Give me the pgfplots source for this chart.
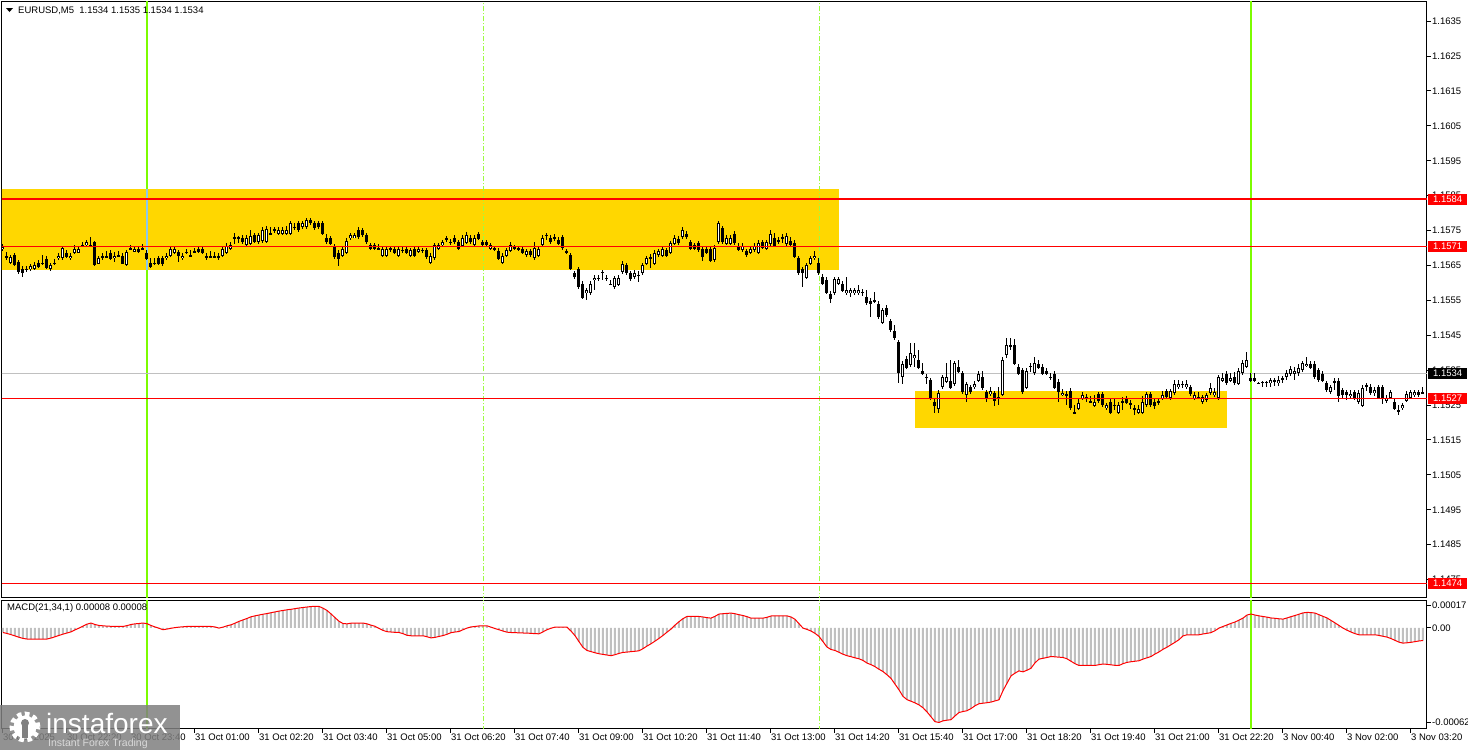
\documentclass[border=0pt]{standalone}
\usepackage{fontspec}
\setmainfont{Liberation Sans}
\usepackage{pgfplots}
\usepackage{pgfplotstable}
\pgfplotsset{compat=1.18}
\definecolor{gold}{RGB}{255,215,0}
\definecolor{lawn}{RGB}{124,252,0}
\definecolor{silver}{RGB}{192,192,192}
\definecolor{xorblue}{RGB}{140,200,235}
\newcommand\lbl{\fontsize{9.5}{11}\selectfont}

% EURUSD M5 candles: index, open, high, low, close, MACD(21,34,1)
\pgfplotstableread{
i o h l c m
0 1.15697 1.15711 1.15691 1.15705 -2.9e-5
1 1.15679 1.15688 1.15665 1.15671 -3.5e-5
2 1.15659 1.15679 1.15654 1.15674 -4.2e-5
3 1.15679 1.15685 1.15648 1.15651 -5.0e-5
4 1.15659 1.15665 1.15625 1.15631 -5.8e-5
5 1.15642 1.15648 1.15616 1.15628 -6.5e-5
6 1.15639 1.15648 1.15631 1.15639 -6.9e-5
7 1.15639 1.15654 1.15634 1.15648 -6.9e-5
8 1.15639 1.15659 1.15636 1.15651 -6.9e-5
9 1.15659 1.15665 1.15642 1.15648 -6.9e-5
10 1.15656 1.15679 1.15651 1.15656 -6.9e-5
11 1.15671 1.15676 1.15639 1.15645 -6.9e-5
12 1.15639 1.15656 1.15634 1.15651 -6.3e-5
13 1.15656 1.15668 1.15651 1.15656 -5.5e-5
14 1.15671 1.15685 1.15665 1.15679 -4.7e-5
15 1.15671 1.15705 1.15665 1.15699 -3.9e-5
16 1.15688 1.15694 1.15671 1.15676 -3.2e-5
17 1.15671 1.15685 1.15665 1.15679 -2.5e-5
18 1.15688 1.15708 1.15682 1.15699 -1.3e-5
19 1.15688 1.15705 1.15685 1.15699 -0.2e-5
20 1.15708 1.15717 1.15702 1.15708 1.0e-5
21 1.15708 1.15722 1.15702 1.15717 2.2e-5
22 1.15708 1.15731 1.15702 1.15708 2.9e-5
23 1.15717 1.15719 1.15648 1.15651 2.0e-5
24 1.15656 1.15676 1.15654 1.15671 1.4e-5
25 1.15679 1.15685 1.15665 1.15671 1.2e-5
26 1.15676 1.15691 1.15671 1.15676 1.0e-5
27 1.15688 1.15694 1.15665 1.15671 0.9e-5
28 1.15671 1.15688 1.15659 1.15679 0.8e-5
29 1.15679 1.15691 1.15674 1.15679 0.8e-5
30 1.15679 1.15685 1.15654 1.15656 0.8e-5
31 1.15651 1.15694 1.15648 1.15688 1.3e-5
32 1.15699 1.15708 1.15694 1.15699 2.0e-5
33 1.15691 1.15705 1.15688 1.15699 2.4e-5
34 1.15699 1.15705 1.15685 1.15691 2.6e-5
35 1.15699 1.15711 1.15694 1.15699 2.9e-5
36 1.15688 1.15694 1.15665 1.15671 2.5e-5
37 1.15659 1.15671 1.15642 1.15648 1.4e-5
38 1.15656 1.15671 1.15651 1.15656 0.5e-5
39 1.15671 1.15676 1.15651 1.15656 -0.3e-5
40 1.15671 1.15676 1.15648 1.15656 -1.2e-5
41 1.15671 1.15685 1.15665 1.15679 -0.8e-5
42 1.15679 1.15705 1.15674 1.15699 -0.3e-5
43 1.15688 1.15705 1.15682 1.15699 0.1e-5
44 1.15688 1.15694 1.15659 1.15679 0.4e-5
45 1.15671 1.15685 1.15665 1.15679 0.6e-5
46 1.15688 1.15697 1.15682 1.15688 0.8e-5
47 1.15679 1.15694 1.15676 1.15679 0.8e-5
48 1.15691 1.15699 1.15685 1.15691 0.8e-5
49 1.15699 1.15705 1.15685 1.15691 0.8e-5
50 1.15699 1.15705 1.15682 1.15688 0.8e-5
51 1.15679 1.15685 1.15665 1.15671 0.8e-5
52 1.15676 1.15691 1.15671 1.15676 0.8e-5
53 1.15676 1.15688 1.15674 1.15676 0.5e-5
54 1.15679 1.15685 1.15665 1.15671 -0.2e-5
55 1.15679 1.15705 1.15674 1.15699 0.4e-5
56 1.15688 1.15714 1.15682 1.15708 1.2e-5
57 1.15699 1.15717 1.15694 1.15708 1.8e-5
58 1.15731 1.15742 1.15711 1.15731 2.8e-5
59 1.15731 1.15734 1.15714 1.15731 3.9e-5
60 1.15731 1.15737 1.15711 1.15717 4.8e-5
61 1.15711 1.15737 1.15705 1.15731 5.7e-5
62 1.15714 1.15751 1.15708 1.15737 6.7e-5
63 1.15737 1.15742 1.15714 1.15719 7.3e-5
64 1.15717 1.15742 1.15711 1.15737 7.8e-5
65 1.15719 1.15760 1.15714 1.15751 8.3e-5
66 1.15719 1.15762 1.15714 1.15754 8.7e-5
67 1.15742 1.15760 1.15737 1.15742 9.2e-5
68 1.15754 1.15760 1.15742 1.15754 9.7e-5
69 1.15742 1.15760 1.15737 1.15754 10.2e-5
70 1.15742 1.15760 1.15737 1.15754 10.6e-5
71 1.15742 1.15762 1.15737 1.15754 11.0e-5
72 1.15742 1.15777 1.15737 1.15771 11.3e-5
73 1.15760 1.15771 1.15751 1.15760 11.7e-5
74 1.15771 1.15777 1.15745 1.15751 12.1e-5
75 1.15760 1.15777 1.15754 1.15771 12.4e-5
76 1.15760 1.15785 1.15754 1.15780 12.7e-5
77 1.15780 1.15785 1.15765 1.15771 13.0e-5
78 1.15771 1.15777 1.15751 1.15757 13.1e-5
79 1.15771 1.15777 1.15754 1.15760 13.1e-5
80 1.15771 1.15777 1.15737 1.15742 12.0e-5
81 1.15731 1.15740 1.15711 1.15717 10.6e-5
82 1.15731 1.15734 1.15708 1.15714 8.5e-5
83 1.15702 1.15711 1.15668 1.15674 6.2e-5
84 1.15688 1.15694 1.15648 1.15671 4.0e-5
85 1.15679 1.15705 1.15674 1.15699 2.6e-5
86 1.15688 1.15728 1.15682 1.15722 2.4e-5
87 1.15728 1.15742 1.15722 1.15737 2.8e-5
88 1.15731 1.15742 1.15728 1.15737 2.9e-5
89 1.15751 1.15760 1.15725 1.15731 2.9e-5
90 1.15751 1.15757 1.15731 1.15737 2.9e-5
91 1.15737 1.15742 1.15711 1.15717 2.4e-5
92 1.15708 1.15714 1.15694 1.15699 1.6e-5
93 1.15708 1.15714 1.15694 1.15699 0.9e-5
94 1.15699 1.15711 1.15697 1.15699 -0.4e-5
95 1.15679 1.15705 1.15674 1.15699 -1.6e-5
96 1.15679 1.15705 1.15674 1.15699 -2.4e-5
97 1.15699 1.15705 1.15688 1.15699 -2.6e-5
98 1.15699 1.15705 1.15682 1.15688 -2.8e-5
99 1.15679 1.15705 1.15674 1.15699 -2.9e-5
100 1.15694 1.15705 1.15685 1.15694 -3.6e-5
101 1.15699 1.15705 1.15682 1.15688 -4.6e-5
102 1.15679 1.15699 1.15674 1.15694 -4.9e-5
103 1.15699 1.15705 1.15674 1.15679 -4.9e-5
104 1.15691 1.15705 1.15685 1.15699 -4.9e-5
105 1.15694 1.15699 1.15685 1.15694 -4.9e-5
106 1.15694 1.15699 1.15668 1.15674 -5.5e-5
107 1.15659 1.15685 1.15654 1.15679 -6.2e-5
108 1.15671 1.15714 1.15665 1.15708 -5.9e-5
109 1.15699 1.15714 1.15694 1.15708 -5.3e-5
110 1.15708 1.15722 1.15702 1.15717 -4.8e-5
111 1.15728 1.15734 1.15717 1.15728 -4.0e-5
112 1.15717 1.15725 1.15708 1.15717 -3.0e-5
113 1.15731 1.15737 1.15711 1.15717 -2.6e-5
114 1.15717 1.15722 1.15694 1.15699 -2.3e-5
115 1.15708 1.15737 1.15702 1.15731 -1.2e-5
116 1.15717 1.15745 1.15711 1.15740 -0.2e-5
117 1.15731 1.15737 1.15711 1.15717 0.5e-5
118 1.15711 1.15737 1.15705 1.15731 0.8e-5
119 1.15740 1.15745 1.15722 1.15728 1.1e-5
120 1.15717 1.15722 1.15702 1.15708 1.2e-5
121 1.15717 1.15722 1.15702 1.15708 1.2e-5
122 1.15699 1.15714 1.15694 1.15708 0.4e-5
123 1.15699 1.15702 1.15691 1.15699 -0.5e-5
124 1.15694 1.15699 1.15665 1.15671 -1.2e-5
125 1.15659 1.15685 1.15654 1.15679 -2.0e-5
126 1.15679 1.15699 1.15674 1.15694 -2.7e-5
127 1.15694 1.15717 1.15688 1.15711 -2.9e-5
128 1.15702 1.15708 1.15694 1.15702 -3.0e-5
129 1.15699 1.15705 1.15691 1.15699 -3.1e-5
130 1.15699 1.15705 1.15682 1.15688 -3.2e-5
131 1.15679 1.15697 1.15674 1.15691 -3.3e-5
132 1.15691 1.15697 1.15674 1.15679 -3.4e-5
133 1.15671 1.15717 1.15665 1.15699 -3.6e-5
134 1.15679 1.15705 1.15674 1.15699 -3.7e-5
135 1.15711 1.15737 1.15705 1.15731 -2.5e-5
136 1.15737 1.15742 1.15722 1.15737 -1.2e-5
137 1.15731 1.15737 1.15711 1.15717 -0.3e-5
138 1.15731 1.15740 1.15719 1.15731 0.4e-5
139 1.15725 1.15731 1.15708 1.15714 0.4e-5
140 1.15731 1.15737 1.15694 1.15699 0.4e-5
141 1.15691 1.15697 1.15682 1.15691 0.4e-5
142 1.15679 1.15685 1.15636 1.15639 -2.0e-5
143 1.15628 1.15634 1.15611 1.15616 -4.8e-5
144 1.15639 1.15645 1.15582 1.15588 -8.5e-5
145 1.15599 1.15605 1.15553 1.15559 -12.0e-5
146 1.15571 1.15585 1.15550 1.15579 -13.9e-5
147 1.15571 1.15605 1.15565 1.15599 -14.6e-5
148 1.15608 1.15622 1.15579 1.15616 -15.3e-5
149 1.15611 1.15622 1.15605 1.15616 -15.9e-5
150 1.15631 1.15636 1.15608 1.15631 -16.3e-5
151 1.15616 1.15622 1.15605 1.15611 -16.7e-5
152 1.15596 1.15608 1.15594 1.15596 -17.1e-5
153 1.15588 1.15619 1.15582 1.15614 -16.5e-5
154 1.15596 1.15622 1.15591 1.15616 -15.7e-5
155 1.15631 1.15662 1.15625 1.15656 -15.1e-5
156 1.15651 1.15656 1.15622 1.15628 -14.9e-5
157 1.15628 1.15634 1.15605 1.15611 -14.6e-5
158 1.15616 1.15636 1.15611 1.15628 -14.4e-5
159 1.15622 1.15634 1.15602 1.15622 -14.1e-5
160 1.15628 1.15656 1.15622 1.15651 -12.8e-5
161 1.15656 1.15676 1.15651 1.15671 -11.2e-5
162 1.15671 1.15682 1.15642 1.15676 -9.8e-5
163 1.15656 1.15694 1.15651 1.15688 -8.2e-5
164 1.15679 1.15697 1.15674 1.15691 -6.5e-5
165 1.15679 1.15705 1.15674 1.15699 -4.7e-5
166 1.15694 1.15699 1.15674 1.15679 -2.7e-5
167 1.15688 1.15719 1.15682 1.15714 -0.8e-5
168 1.15714 1.15737 1.15708 1.15731 1.6e-5
169 1.15728 1.15734 1.15708 1.15714 3.7e-5
170 1.15731 1.15760 1.15725 1.15751 5.6e-5
171 1.15742 1.15748 1.15725 1.15731 6.9e-5
172 1.15717 1.15722 1.15694 1.15699 6.9e-5
173 1.15708 1.15714 1.15694 1.15699 6.9e-5
174 1.15714 1.15719 1.15688 1.15694 6.9e-5
175 1.15699 1.15705 1.15662 1.15676 6.6e-5
176 1.15699 1.15705 1.15682 1.15688 6.2e-5
177 1.15699 1.15705 1.15659 1.15665 5.9e-5
178 1.15665 1.15708 1.15659 1.15702 7.0e-5
179 1.15717 1.15777 1.15711 1.15771 8.4e-5
180 1.15757 1.15762 1.15711 1.15717 8.6e-5
181 1.15714 1.15737 1.15708 1.15731 8.8e-5
182 1.15714 1.15737 1.15708 1.15731 9.0e-5
183 1.15742 1.15748 1.15708 1.15714 8.6e-5
184 1.15708 1.15714 1.15691 1.15697 8.0e-5
185 1.15694 1.15714 1.15688 1.15708 7.5e-5
186 1.15691 1.15697 1.15674 1.15679 6.8e-5
187 1.15688 1.15705 1.15682 1.15699 5.9e-5
188 1.15694 1.15714 1.15688 1.15708 5.9e-5
189 1.15688 1.15722 1.15682 1.15717 5.9e-5
190 1.15717 1.15722 1.15697 1.15702 5.9e-5
191 1.15699 1.15722 1.15694 1.15717 6.4e-5
192 1.15711 1.15751 1.15705 1.15742 7.2e-5
193 1.15731 1.15742 1.15702 1.15708 7.3e-5
194 1.15722 1.15731 1.15711 1.15722 7.3e-5
195 1.15731 1.15740 1.15714 1.15731 7.3e-5
196 1.15714 1.15742 1.15705 1.15737 7.3e-5
197 1.15722 1.15731 1.15705 1.15711 6.6e-5
198 1.15717 1.15722 1.15671 1.15676 5.2e-5
199 1.15671 1.15676 1.15622 1.15628 2.5e-5
200 1.15639 1.15645 1.15588 1.15628 -0.2e-5
201 1.15616 1.15656 1.15611 1.15651 -1.0e-5
202 1.15656 1.15676 1.15651 1.15671 -2.0e-5
203 1.15671 1.15691 1.15665 1.15679 -3.4e-5
204 1.15659 1.15671 1.15622 1.15628 -5.3e-5
205 1.15619 1.15625 1.15594 1.15599 -8.5e-5
206 1.15611 1.15616 1.15568 1.15574 -11.8e-5
207 1.15571 1.15576 1.15542 1.15556 -13.3e-5
208 1.15571 1.15616 1.15565 1.15611 -13.9e-5
209 1.15599 1.15616 1.15594 1.15611 -15.0e-5
210 1.15599 1.15605 1.15574 1.15579 -16.2e-5
211 1.15571 1.15616 1.15565 1.15579 -17.1e-5
212 1.15571 1.15585 1.15559 1.15579 -17.7e-5
213 1.15571 1.15585 1.15565 1.15579 -18.4e-5
214 1.15571 1.15594 1.15565 1.15579 -19.0e-5
215 1.15574 1.15582 1.15562 1.15574 -20.0e-5
216 1.15559 1.15579 1.15536 1.15542 -21.6e-5
217 1.15550 1.15556 1.15502 1.15539 -22.6e-5
218 1.15550 1.15574 1.15542 1.15550 -23.8e-5
219 1.15542 1.15547 1.15496 1.15502 -25.4e-5
220 1.15487 1.15528 1.15482 1.15522 -26.8e-5
221 1.15530 1.15536 1.15502 1.15508 -28.8e-5
222 1.15490 1.15496 1.15459 1.15465 -31.0e-5
223 1.15462 1.15479 1.15436 1.15442 -34.5e-5
224 1.15430 1.15436 1.15313 1.15341 -38.0e-5
225 1.15330 1.15376 1.15310 1.15370 -42.0e-5
226 1.15384 1.15390 1.15353 1.15358 -44.0e-5
227 1.15364 1.15427 1.15358 1.15399 -45.0e-5
228 1.15384 1.15427 1.15358 1.15393 -46.0e-5
229 1.15381 1.15407 1.15353 1.15358 -47.2e-5
230 1.15350 1.15370 1.15336 1.15341 -49.0e-5
231 1.15330 1.15338 1.15310 1.15330 -51.5e-5
232 1.15321 1.15327 1.15264 1.15270 -54.5e-5
233 1.15261 1.15267 1.15227 1.15247 -57.5e-5
234 1.15241 1.15293 1.15227 1.15287 -58.0e-5
235 1.15301 1.15336 1.15295 1.15330 -57.0e-5
236 1.15318 1.15370 1.15313 1.15330 -56.6e-5
237 1.15321 1.15379 1.15295 1.15301 -56.3e-5
238 1.15310 1.15376 1.15304 1.15370 -54.0e-5
239 1.15361 1.15379 1.15341 1.15347 -51.9e-5
240 1.15341 1.15347 1.15281 1.15287 -51.3e-5
241 1.15278 1.15316 1.15258 1.15310 -50.8e-5
242 1.15301 1.15307 1.15281 1.15287 -49.5e-5
243 1.15301 1.15318 1.15295 1.15310 -47.8e-5
244 1.15321 1.15347 1.15316 1.15341 -46.5e-5
245 1.15330 1.15347 1.15293 1.15298 -46.2e-5
246 1.15287 1.15293 1.15258 1.15272 -45.9e-5
247 1.15281 1.15301 1.15275 1.15290 -45.5e-5
248 1.15284 1.15290 1.15247 1.15261 -44.8e-5
249 1.15272 1.15301 1.15250 1.15272 -44.1e-5
250 1.15281 1.15387 1.15275 1.15381 -38.5e-5
251 1.15393 1.15442 1.15384 1.15422 -34.0e-5
252 1.15422 1.15442 1.15407 1.15422 -29.5e-5
253 1.15422 1.15439 1.15364 1.15370 -27.8e-5
254 1.15361 1.15367 1.15336 1.15341 -26.4e-5
255 1.15350 1.15356 1.15281 1.15287 -27.0e-5
256 1.15301 1.15356 1.15295 1.15350 -26.0e-5
257 1.15361 1.15370 1.15344 1.15361 -24.8e-5
258 1.15341 1.15387 1.15336 1.15370 -21.5e-5
259 1.15370 1.15379 1.15353 1.15358 -19.2e-5
260 1.15361 1.15367 1.15336 1.15341 -18.7e-5
261 1.15350 1.15356 1.15336 1.15341 -18.2e-5
262 1.15330 1.15341 1.15321 1.15330 -17.6e-5
263 1.15341 1.15347 1.15295 1.15301 -17.8e-5
264 1.15318 1.15324 1.15258 1.15287 -18.0e-5
265 1.15281 1.15295 1.15275 1.15287 -18.2e-5
266 1.15281 1.15290 1.15250 1.15281 -19.0e-5
267 1.15290 1.15298 1.15235 1.15241 -20.5e-5
268 1.15229 1.15250 1.15227 1.15229 -22.0e-5
269 1.15241 1.15270 1.15235 1.15258 -23.1e-5
270 1.15270 1.15287 1.15264 1.15281 -23.1e-5
271 1.15272 1.15281 1.15258 1.15272 -23.1e-5
272 1.15261 1.15275 1.15258 1.15261 -23.1e-5
273 1.15250 1.15278 1.15244 1.15261 -23.1e-5
274 1.15281 1.15287 1.15255 1.15261 -22.6e-5
275 1.15281 1.15287 1.15244 1.15250 -22.2e-5
276 1.15241 1.15255 1.15235 1.15250 -22.4e-5
277 1.15261 1.15267 1.15224 1.15229 -22.7e-5
278 1.15250 1.15267 1.15235 1.15250 -23.0e-5
279 1.15229 1.15258 1.15224 1.15250 -23.1e-5
280 1.15261 1.15272 1.15235 1.15261 -22.0e-5
281 1.15270 1.15275 1.15252 1.15258 -21.2e-5
282 1.15255 1.15264 1.15238 1.15255 -20.8e-5
283 1.15241 1.15250 1.15221 1.15241 -20.5e-5
284 1.15229 1.15250 1.15224 1.15241 -20.2e-5
285 1.15229 1.15275 1.15224 1.15261 -19.2e-5
286 1.15250 1.15287 1.15244 1.15281 -18.4e-5
287 1.15281 1.15287 1.15244 1.15250 -17.6e-5
288 1.15261 1.15267 1.15238 1.15250 -16.1e-5
289 1.15261 1.15267 1.15250 1.15261 -14.8e-5
290 1.15270 1.15290 1.15264 1.15281 -13.2e-5
291 1.15290 1.15295 1.15270 1.15275 -11.9e-5
292 1.15270 1.15295 1.15264 1.15290 -10.4e-5
293 1.15284 1.15321 1.15278 1.15310 -8.9e-5
294 1.15301 1.15321 1.15295 1.15310 -7.3e-5
295 1.15310 1.15318 1.15298 1.15310 -5.0e-5
296 1.15301 1.15321 1.15295 1.15310 -4.3e-5
297 1.15301 1.15307 1.15275 1.15281 -4.3e-5
298 1.15270 1.15287 1.15264 1.15281 -4.3e-5
299 1.15272 1.15287 1.15270 1.15272 -4.3e-5
300 1.15258 1.15278 1.15252 1.15272 -3.8e-5
301 1.15264 1.15284 1.15258 1.15278 -3.4e-5
302 1.15284 1.15313 1.15278 1.15298 -3.0e-5
303 1.15278 1.15298 1.15272 1.15287 -1.8e-5
304 1.15270 1.15336 1.15264 1.15330 -0.2e-5
305 1.15321 1.15341 1.15316 1.15330 0.8e-5
306 1.15341 1.15347 1.15307 1.15313 1.7e-5
307 1.15321 1.15341 1.15316 1.15330 2.7e-5
308 1.15330 1.15344 1.15307 1.15313 3.5e-5
309 1.15313 1.15356 1.15307 1.15350 4.7e-5
310 1.15341 1.15379 1.15336 1.15370 5.9e-5
311 1.15361 1.15401 1.15356 1.15381 7.8e-5
312 1.15330 1.15341 1.15316 1.15321 8.4e-5
313 1.15330 1.15341 1.15316 1.15321 7.8e-5
314 1.15313 1.15316 1.15310 1.15313 7.3e-5
315 1.15316 1.15318 1.15301 1.15316 6.9e-5
316 1.15316 1.15318 1.15301 1.15316 6.5e-5
317 1.15313 1.15327 1.15301 1.15321 6.0e-5
318 1.15321 1.15327 1.15304 1.15321 5.8e-5
319 1.15313 1.15333 1.15304 1.15321 5.5e-5
320 1.15327 1.15333 1.15313 1.15327 5.3e-5
321 1.15330 1.15350 1.15321 1.15341 6.0e-5
322 1.15341 1.15361 1.15333 1.15356 6.8e-5
323 1.15341 1.15358 1.15321 1.15350 7.5e-5
324 1.15341 1.15367 1.15333 1.15358 8.3e-5
325 1.15350 1.15376 1.15344 1.15370 9.1e-5
326 1.15364 1.15387 1.15358 1.15370 9.4e-5
327 1.15370 1.15376 1.15353 1.15358 9.3e-5
328 1.15370 1.15376 1.15324 1.15330 9.0e-5
329 1.15350 1.15356 1.15316 1.15321 8.0e-5
330 1.15341 1.15347 1.15316 1.15321 7.0e-5
331 1.15313 1.15318 1.15287 1.15293 6.0e-5
332 1.15287 1.15307 1.15281 1.15301 4.5e-5
333 1.15318 1.15327 1.15293 1.15318 3.0e-5
334 1.15321 1.15327 1.15258 1.15278 1.4e-5
335 1.15293 1.15298 1.15270 1.15278 -0.2e-5
336 1.15287 1.15293 1.15264 1.15278 -1.5e-5
337 1.15278 1.15293 1.15270 1.15284 -2.6e-5
338 1.15287 1.15293 1.15264 1.15272 -3.6e-5
339 1.15258 1.15293 1.15252 1.15284 -4.3e-5
340 1.15250 1.15307 1.15244 1.15301 -4.3e-5
341 1.15307 1.15313 1.15290 1.15307 -4.3e-5
342 1.15301 1.15310 1.15278 1.15284 -4.3e-5
343 1.15284 1.15301 1.15275 1.15293 -4.3e-5
344 1.15301 1.15307 1.15267 1.15272 -4.7e-5
345 1.15301 1.15307 1.15252 1.15272 -5.2e-5
346 1.15261 1.15278 1.15255 1.15272 -5.7e-5
347 1.15272 1.15293 1.15267 1.15287 -6.6e-5
348 1.15261 1.15270 1.15235 1.15241 -7.7e-5
349 1.15235 1.15250 1.15221 1.15235 -8.8e-5
350 1.15241 1.15255 1.15235 1.15250 -9.4e-5
351 1.15264 1.15290 1.15258 1.15284 -9.2e-5
352 1.15272 1.15293 1.15267 1.15287 -8.9e-5
353 1.15278 1.15293 1.15272 1.15287 -8.5e-5
354 1.15287 1.15293 1.15272 1.15278 -8.1e-5
355 1.15287 1.15301 1.15284 1.15287 -7.8e-5
}\candles

\pgfplotsset{
  mtframe/.style={
    scale only axis, width=1425pt,
    xmin=-0.25, xmax=356,
    axis line style={line width=1pt},
    tick align=outside, major tick length=4pt,
    tick style={black, line width=1pt},
    tick label style={font=\lbl},
    ytick pos=right, yticklabel pos=right,
    yticklabel style={anchor=west, inner sep=0pt, xshift=1pt},
    scaled y ticks=false,
  },
  wick/.style={draw=none, forget plot,
    error bars/.cd, y dir=both, y explicit, error mark=none,
    error bar style={draw=black, line width=1pt}},
  body/.style 2 args={draw=none, forget plot, restrict y to domain=1.1:1.2,
    error bars/.cd, y dir=both, y explicit, error mark=none,
    error bar style={draw=#1, line width=#2}},
}

\begin{document}
\begin{tikzpicture}
\useasboundingbox (0pt,0pt) rectangle (1468pt,-750pt);
\fill[white] (0pt,0pt) rectangle (1468pt,-750pt);

% price panel
\begin{axis}[mtframe,
  at={(2pt,-2pt)}, anchor=north west, height=595pt,
  ymin=1.14700, ymax=1.16405,
  xtick=\empty,
  ytick={1.1475,1.1485,1.1495,1.1505,1.1515,1.1525,1.1535,1.1545,1.1555,1.1565,1.1575,1.1585,1.1595,1.1605,1.1615,1.1625,1.1635},
  yticklabels={1.1475,1.1485,1.1495,1.1505,1.1515,1.1525,1.1535,1.1545,1.1555,1.1565,1.1575,1.1585,1.1595,1.1605,1.1615,1.1625,1.1635},
]
\addplot[fill=gold, draw=none] coordinates {(-1,1.15638) (208.9,1.15638) (208.9,1.15869) (-1,1.15869)} -- cycle;
\addplot[fill=gold, draw=none] coordinates {(228,1.15184) (305.9,1.15184) (305.9,1.15290) (228,1.15290)} -- cycle;
\addplot[lawn!75!white, line width=1pt, dash pattern=on 5pt off 2pt on 1pt off 2pt] coordinates {(120.1,1.14) (120.1,1.17)};
\addplot[lawn!75!white, line width=1pt, dash pattern=on 5pt off 2pt on 1pt off 2pt] coordinates {(204.1,1.14) (204.1,1.17)};
\addplot[lawn, line width=2pt] coordinates {(36,1.14) (36,1.17)};
\addplot[xorblue, line width=2pt] coordinates {(36,1.15638) (36,1.15869)};
\addplot[lawn, line width=2pt] coordinates {(312,1.14) (312,1.17)};
\addplot[silver, line width=1pt] coordinates {(-1,1.15341) (357,1.15341)};
% candles
\addplot[wick] table[x=i, y=c, y error plus expr=\thisrow{h}-\thisrow{c}, y error minus expr=\thisrow{c}-\thisrow{l}] {\candles};
\addplot[body={black}{3pt}] table[x=i, y expr={\thisrow{c}>\thisrow{o} ? 5 : (\thisrow{o}+\thisrow{c})/2}, y error expr={max((\thisrow{o}-\thisrow{c})/2,0.0000143)}] {\candles};
\addplot[body={black}{3pt}] table[x=i, y expr={\thisrow{c}>\thisrow{o} ? (\thisrow{o}+\thisrow{c})/2 : 5}, y error expr={(\thisrow{c}-\thisrow{o})/2}] {\candles};
\addplot[body={white}{1pt}] table[x=i, y expr={\thisrow{c}>\thisrow{o} ? (\thisrow{o}+\thisrow{c})/2 : 5}, y error expr={max((\thisrow{c}-\thisrow{o})/2-0.0000287,0)}] {\candles};
% levels
\addplot[red, line width=2pt] coordinates {(-1,1.1584) (357,1.1584)};
\addplot[red, line width=1pt] coordinates {(-1,1.15705) (357,1.15705)};
\addplot[red, line width=1pt] coordinates {(-1,1.1527) (357,1.1527)};
\addplot[red, line width=1pt] coordinates {(-1,1.1474) (357,1.1474)};
\end{axis}

% MACD panel
\begin{axis}[mtframe,
  at={(2pt,-600pt)}, anchor=north west, height=129pt,
  ymin=-0.00062, ymax=0.00017,
  xtick pos=bottom,
  xtick={0,16,32,48,64,80,96,112,128,144,160,176,192,208,224,240,256,272,288,304,320,336,352},
  xticklabels={30 Oct 2025,30 Oct 22:20,30 Oct 23:40,31 Oct 01:00,31 Oct 02:20,31 Oct 03:40,31 Oct 05:00,31 Oct 06:20,31 Oct 07:40,31 Oct 09:00,31 Oct 10:20,31 Oct 11:40,31 Oct 13:00,31 Oct 14:20,31 Oct 15:40,31 Oct 17:00,31 Oct 18:20,31 Oct 19:40,31 Oct 21:00,31 Oct 22:20,3 Nov 00:40,3 Nov 02:00,3 Nov 03:20},
  xticklabel style={anchor=north west, inner sep=0pt, yshift=-1pt},
  ytick={-0.00058,0,0.0001366},
  yticklabels={-0.00062,0.00,0.00017},
]
\addplot[ybar, bar width=2pt, bar shift=0pt, fill=silver, draw=none, forget plot] table[x=i, y=m] {\candles};
\addplot[lawn!75!white, line width=1pt, dash pattern=on 5pt off 2pt on 1pt off 2pt] coordinates {(120.1,-0.001) (120.1,0.001)};
\addplot[lawn!75!white, line width=1pt, dash pattern=on 5pt off 2pt on 1pt off 2pt] coordinates {(204.1,-0.001) (204.1,0.001)};
\addplot[lawn, line width=2pt] coordinates {(36,-0.001) (36,0.001)};
\addplot[lawn, line width=2pt] coordinates {(312,-0.001) (312,0.001)};
\addplot[red, line width=1pt] table[x=i, y=m] {\candles};
\end{axis}

% price tags on the right scale
\tikzset{tag/.style={fill=#1, text=white, minimum width=39pt, minimum height=11pt, inner sep=0pt, anchor=west, font=\lbl}}
\node[tag=red] at (1428pt,-199pt) {1.1584};
\node[tag=red] at (1428pt,-246pt) {1.1571};
\node[tag=black] at (1428pt,-373pt) {1.1534};
\node[tag=red] at (1428pt,-398pt) {1.1527};
\node[tag=red] at (1428pt,-583pt) {1.1474};

% headers
\fill (6pt,-8pt) -- (13pt,-8pt) -- (9.5pt,-12pt) -- cycle;
\node[anchor=west, inner sep=0pt, font=\lbl] at (18pt,-10.7pt) {EURUSD,M5\ \ 1.1534 1.1535 1.1534 1.1534};
\node[anchor=west, inner sep=0pt, font=\lbl] at (7pt,-608.3pt) {MACD(21,34,1) 0.00008 0.00008};

% watermark
\fill[gray, opacity=0.85] (0pt,-705pt) rectangle (180pt,-750pt);
\draw[white, line width=5pt, dash pattern=on 4.5pt off 3.4pt] (25pt,-727pt) circle (13pt);
\fill[white] (25pt,-727pt) circle (11.5pt);
\fill[gray] (25pt,-723pt) circle (4pt);
\fill[gray] (22pt,-724pt) rectangle (28pt,-738pt);
\node[anchor=base west, inner sep=0pt, text=white, font=\fontsize{28}{30}\selectfont] at (46pt,-733pt) {instaforex};
\node[anchor=base west, inner sep=0pt, text=gray!30, font=\fontsize{10.5}{12}\selectfont] at (48pt,-746pt) {Instant Forex Trading};
\end{tikzpicture}
\end{document}
